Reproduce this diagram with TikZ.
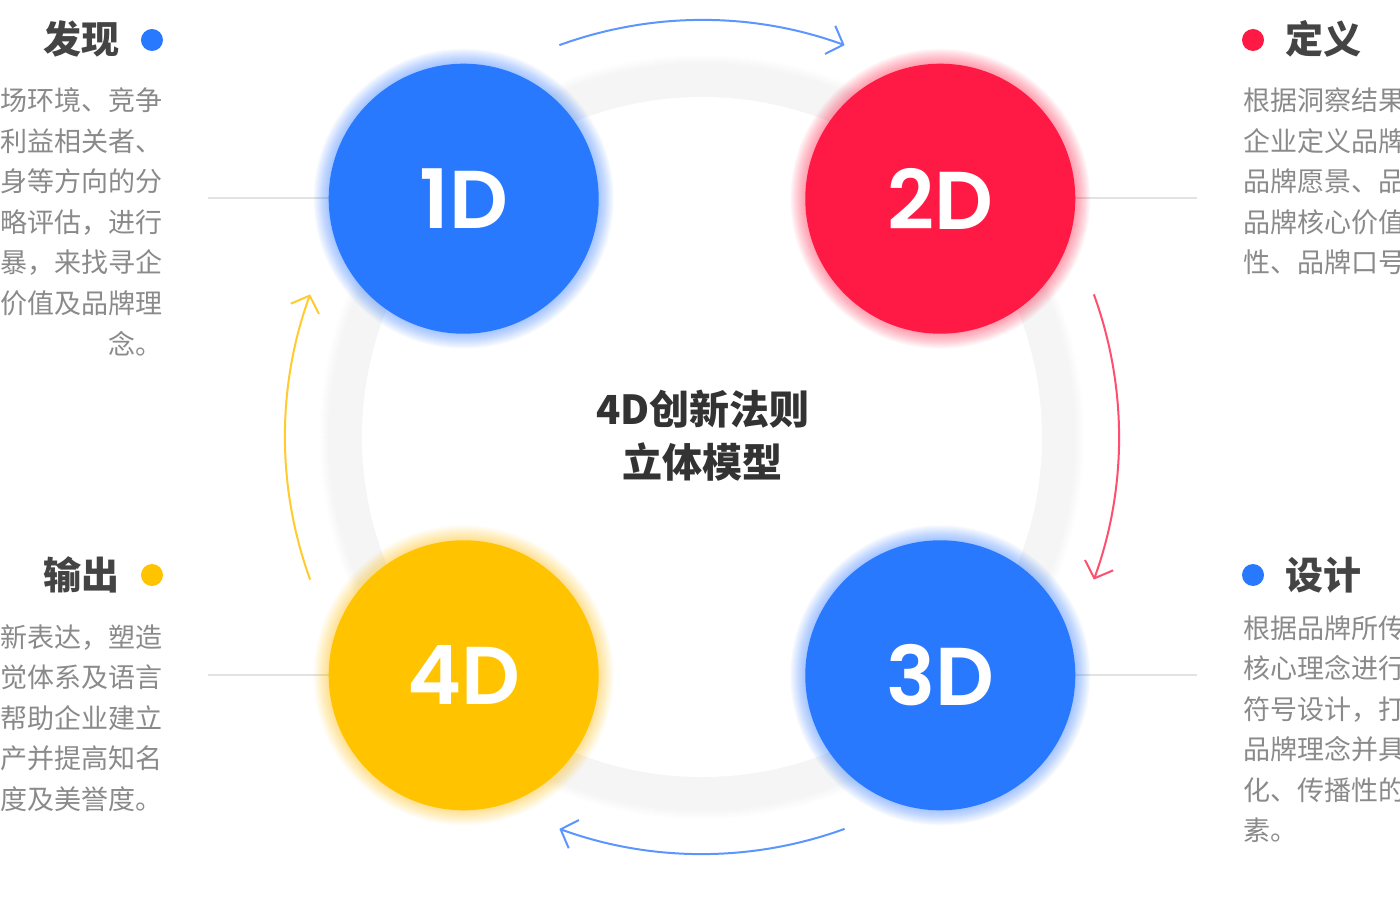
\documentclass[tikz,border=0pt]{standalone}
\usepackage{fontspec}
\setmainfont{Noto Sans CJK SC}
\newfontfamily\numfont{Poppins SemiBold}
\usepackage{xcolor}
\usetikzlibrary{arrows.meta}

\definecolor{blueD}{HTML}{2979FF}
\definecolor{redD}{HTML}{FF1A45}
\definecolor{yellowD}{HTML}{FFC300}
\definecolor{flowBlue}{HTML}{5B96FF}
\definecolor{flowRed}{HTML}{FF4F6E}
\definecolor{flowYellow}{HTML}{FFCB2E}
\definecolor{titleGray}{HTML}{444444}
\definecolor{bodyGray}{HTML}{8A8A8A}
\definecolor{lineGray}{HTML}{E2E2E2}

\tikzset{
	ball/.style = {circle, fill=#1, minimum size=270pt, inner sep=0pt, text=white,
		font=\numfont\fontsize{82}{82}\selectfont},
	halo/.style = {fill=#1, opacity=0.03},
	shade/.style = {fill=black!4, opacity=0.02},
	guide/.style = {draw=lineGray, line width=1.5pt},
	flow/.style = {draw=#1, line width=2pt, -{Straight Barb[length=14pt,width=30pt]}},
	title/.style = {text=titleGray, inner sep=0pt, text height=31pt, text depth=3pt,
		font=\bfseries\fontsize{38}{38}\selectfont},
	core/.style = {text=black!80, inner sep=0pt, text height=32pt, text depth=3pt,
		font=\bfseries\fontsize{40}{40}\selectfont},
	body/.style = {text=bodyGray, inner sep=0pt, text height=22pt, text depth=2pt,
		font=\fontsize{27}{27}\selectfont},
	dot/.style = {circle, fill=#1, minimum size=22pt, inner sep=0pt},
}

\begin{document}
\begin{tikzpicture}[x=1pt, y=1pt]
		\clip (-702,-463) rectangle (698,437);
		\fill[white] (-702,-463) rectangle (698,437);
		
		% ring
		\foreach \k in {0,...,44}
			\fill[shade] (0,0) circle [radius = 338+\k];
		\fill[white] (0,0) circle [radius = 340];
		
		% guide lines
		\draw[guide] (-494,239) -- (-372,239);
		\draw[guide] (373,239) -- (495,239);
		\draw[guide] (-494,-238) -- (-372,-238);
		\draw[guide] (373,-238) -- (495,-238);
		
		% balls
		\foreach \ang/\col/\lab/\nm in {135/blueD/1D/disc1, 45/redD/2D/disc2, -45/blueD/3D/disc3, -135/yellowD/4D/disc4} {
			\foreach \k in {1,...,16}
				\fill[halo=\col] (\ang:337) circle [radius = 134+\k];
			\node[ball=\col] (\nm) at (\ang:337) {\lab};
		}
		
		% flow arrows
		\draw[flow=flowBlue] (110:417) arc [start angle=110, end angle=70, radius=417];
		\draw[flow=flowRed] (20:417) arc [start angle=20, end angle=-20, radius=417];
		\draw[flow=flowBlue] (-70:417) arc [start angle=-70, end angle=-110, radius=417];
		\draw[flow=flowYellow] (200:417) arc [start angle=200, end angle=160, radius=417];
		
		% centre
		\node[core] (modelTop) at (1,27) {4D创新法则};
		\node[core] (modelBot) at (1,-26) {立体模型};
		
		% titles
		\node[title, anchor=east] (find) at (-582,397) {发现};
		\node[dot=blueD] (findDot) at (-550,397) {};
		\node[title, anchor=west] (define) at (583,397) {定义};
		\node[dot=redD] (defineDot) at (551,397) {};
		\node[title, anchor=east] (output) at (-582,-138) {输出};
		\node[dot=yellowD] (outputDot) at (-550,-138) {};
		\node[title, anchor=west] (design) at (583,-138) {设计};
		\node[dot=blueD] (designDot) at (551,-138) {};
		
		% texts
		\foreach \txt [count=\i] in {场环境、竞争, 利益相关者、, 身等方向的分, 略评估，进行, 暴，来找寻企, 价值及品牌理, 念。}
			\node[body, anchor=east] (findText\i) at (-539, 376.5-40.5*\i) {\txt};
		\foreach \txt [count=\i] in {根据洞察结果, 企业定义品牌, 品牌愿景、品, 品牌核心价值, 性、品牌口号}
			\node[body, anchor=west] (defineText\i) at (541, 376.5-40.5*\i) {\txt};
		\foreach \txt [count=\i] in {新表达，塑造, 觉体系及语言, 帮助企业建立, 产并提高知名, 度及美誉度。}
			\node[body, anchor=east] (outputText\i) at (-539, -159.5-40.5*\i) {\txt};
		\foreach \txt [count=\i] in {根据品牌所传, 核心理念进行, 符号设计，打, 品牌理念并具, 化、传播性的, 素。}
			\node[body, anchor=west] (designText\i) at (541, -150.5-40.5*\i) {\txt};
	\end{tikzpicture}
\end{document}
